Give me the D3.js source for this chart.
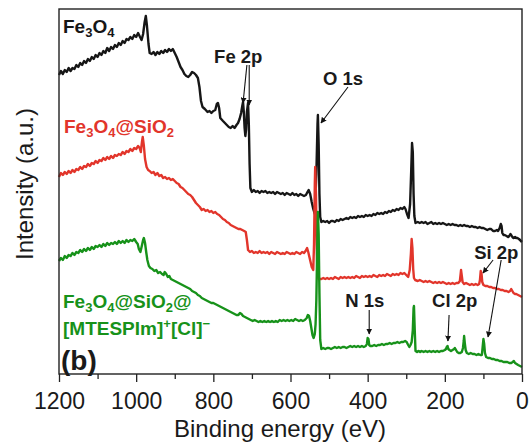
<!DOCTYPE html>
<html>
<head>
<meta charset="utf-8">
<script src="https://cdn.jsdelivr.net/npm/d3@7"></script>
<style>
  html, body { margin: 0; padding: 0; background: #fff; }
  svg { display: block; font-family: "Liberation Sans", Arial, sans-serif; }
</style>
</head>
<body>
<svg id="chart" width="530" height="443"></svg>
<script>
// XPS survey spectra: [binding energy (eV), intensity (a.u., offset)]
const fe3o4 = [
  [1200,299],[1195,303],[1190,300],[1185,304],[1180,302],[1175,306],[1170,303],[1165,306],
  [1160,305],[1155,309],[1150,307],[1145,311],[1140,309],[1135,313],[1130,311],[1125,315],
  [1120,313],[1115,317],[1110,315],[1105,319],[1100,317],[1095,321],[1090,319],[1085,323],
  [1080,321],[1075,326],[1070,323],[1065,327],[1060,325],[1055,329],[1050,327],[1045,331],
  [1040,329],[1035,333],[1030,331],[1025,335],[1020,334],[1015,337],[1010,335],[1005,339],
  [1000,337],[995,341],[990,337],[986,334],[982,340],[978,352],[975,358],[972,348],[968,330],
  [965,321],[960,320],[955,322],[950,319],[945,322],[940,320],[935,323],[930,321],[925,324],
  [920,322],[915,325],[910,323],[905,325],[900,321],[895,317],[890,312],[885,307],[880,304],
  [875,300],[870,298],[865,297],[860,299],[855,302],[850,301],[845,299],[840,296],[836,287],
  [832,273],[828,267],[822,265],[815,262],[810,263],[805,261],[800,263],[795,264],[791,270],
  [788,271],[785,266],[782,256],[775,253],[770,251],[765,249],[760,247],[755,246],[750,248],
  [745,246],[740,249],[736,251],[732,255],[728,261],[725,268],[723,272],[721,262],[719,246],
  [717,238],[715,245],[713,262],[710,271],[708,250],[706,210],[704,186],[700,182],[695,184],
  [690,182],[685,183],[680,181],[675,183],[670,182],[665,183],[660,181],[655,182],[650,181],
  [645,182],[640,180],[635,182],[630,181],[625,180],[620,181],[615,179],[610,181],[605,180],
  [600,179],[595,181],[590,179],[585,180],[580,178],[575,180],[570,179],[565,178],[560,179],
  [556,182],[553,184],[549,180],[545,172],[541,165],[537,160],[533,200],[530,250],[529,259],
  [527,230],[525,180],[523,157],[520,152],[515,153],[510,152],[505,153],[500,151],[495,153],
  [490,153],[485,152],[480,154],[475,153],[470,155],[465,154],[460,155],[455,156],[450,155],
  [445,157],[440,156],[435,157],[430,156],[425,158],[420,157],[415,158],[410,157],[405,159],
  [400,158],[395,159],[390,158],[385,160],[380,159],[375,161],[370,160],[365,161],[360,160],
  [355,162],[350,161],[345,163],[340,162],[335,164],[330,163],[325,165],[320,164],[315,166],
  [310,165],[305,167],[302,165],[298,160],[294,156],[290,170],[287,205],[285,231],[283,222],
  [281,180],[279,158],[276,151],[270,152],[265,151],[260,152],[255,151],[250,152],[245,150],
  [240,151],[235,152],[230,150],[225,151],[220,150],[215,151],[210,150],[205,151],[200,150],
  [195,149],[190,150],[185,149],[180,150],[175,149],[170,149],[165,148],[160,149],[155,148],
  [150,149],[145,148],[140,148],[135,147],[130,148],[125,147],[120,147],[115,146],[110,147],
  [105,146],[100,146],[95,145],[90,144],[85,145],[80,145],[75,143],[70,143],[65,144],[62,143],
  [58,146],[55,150],[53,148],[51,141],[48,139],[45,139],[40,138],[36,137],[33,138],[30,140],
  [28,139],[25,137],[22,136],[18,137],[15,136],[12,136],[8,135],[5,134],[3,133],[0,132]
];

const fe3o4SiO2 = [
  [1200,197],[1195,201],[1190,199],[1185,202],[1180,200],[1175,203],[1170,201],[1165,204],
  [1160,202],[1155,205],[1150,204],[1145,207],[1140,205],[1135,208],[1130,207],[1125,210],
  [1120,208],[1115,211],[1110,210],[1105,213],[1100,211],[1095,214],[1090,213],[1085,216],
  [1080,214],[1075,217],[1070,215],[1065,218],[1060,216],[1055,219],[1050,218],[1045,220],
  [1040,219],[1035,222],[1030,220],[1025,223],[1020,222],[1015,225],[1010,223],[1005,226],
  [1000,225],[995,228],[991,226],[988,222],[985,232],[983,237],[980,228],[977,215],[973,207],
  [969,204],[965,203],[960,201],[955,202],[950,199],[945,201],[940,198],[935,199],[930,196],
  [925,197],[920,195],[915,196],[910,194],[905,195],[900,193],[895,191],[890,190],[885,187],
  [880,186],[875,184],[870,182],[865,180],[860,179],[855,177],[850,174],[845,171],[840,169],
  [835,167],[830,164],[825,165],[820,163],[815,164],[810,162],[805,163],[800,161],[795,162],
  [790,160],[785,159],[780,157],[775,155],[770,154],[765,152],[760,151],[755,149],[750,148],
  [745,147],[740,146],[735,145],[730,145],[725,144],[720,143],[716,142],[713,134],[710,124],
  [705,122],[700,123],[695,121],[690,122],[685,121],[680,123],[675,121],[670,122],[665,121],
  [660,122],[655,120],[650,122],[645,121],[640,120],[635,122],[630,121],[625,120],[620,121],
  [615,120],[610,122],[605,121],[600,120],[595,121],[590,120],[585,122],[580,121],[575,120],
  [570,122],[565,121],[561,123],[557,126],[554,122],[551,117],[548,112],[545,107],[541,104],
  [539,130],[537,190],[536,207],[534,180],[532,125],[530,100],[527,95],[520,95],[515,96],
  [510,95],[505,96],[500,95],[495,96],[490,95],[485,97],[480,96],[475,95],[470,97],[465,96],
  [460,97],[455,96],[450,97],[445,96],[440,97],[435,96],[430,98],[425,97],[420,96],[415,98],
  [410,97],[405,98],[400,97],[395,98],[390,97],[385,99],[380,98],[375,97],[370,99],[365,98],
  [360,99],[355,98],[350,100],[345,99],[340,98],[335,100],[330,99],[325,100],[320,99],[315,101],
  [310,100],[305,101],[300,99],[295,97],[291,104],[288,120],[286,135],[284,126],[282,105],
  [280,96],[277,94],[270,93],[265,94],[260,93],[255,92],[250,93],[245,92],[240,93],[235,92],
  [230,91],[225,92],[220,91],[215,92],[210,91],[205,92],[200,91],[195,90],[190,91],[185,90],
  [180,91],[175,90],[170,91],[165,91],[161,93],[159,100],[158,104],[156,98],[154,92],[150,90],
  [145,91],[140,90],[135,89],[130,90],[125,89],[120,90],[115,89],[111,90],[109,94],[107,103],
  [105,101],[103,92],[100,89],[95,88],[90,88],[85,87],[80,87],[75,86],[70,86],[65,85],[60,85],
  [55,84],[50,84],[45,83],[40,83],[35,82],[31,83],[28,85],[25,83],[22,81],[18,80],[15,80],
  [10,79],[5,78],[0,77]
];

const fe3o4SiO2IL = [
  [1200,113],[1195,116],[1190,114],[1185,118],[1180,116],[1175,119],[1170,118],[1165,121],
  [1160,119],[1155,122],[1150,121],[1145,124],[1140,122],[1135,125],[1130,123],[1125,126],
  [1120,124],[1115,127],[1110,125],[1105,128],[1100,127],[1095,129],[1090,127],[1085,130],
  [1080,128],[1075,131],[1070,129],[1065,131],[1060,130],[1055,132],[1050,130],[1045,133],
  [1040,131],[1035,133],[1030,131],[1025,134],[1020,132],[1015,134],[1010,133],[1005,135],
  [1000,132],[996,130],[993,125],[989,122],[986,127],[982,134],[980,136],[977,131],[974,122],
  [971,114],[967,108],[963,106],[958,105],[953,103],[948,104],[943,101],[938,102],[933,100],
  [929,99],[926,102],[922,100],[918,97],[914,98],[910,95],[905,94],[900,93],[895,92],[890,91],
  [885,90],[880,89],[875,88],[870,87],[865,86],[860,85],[855,83],[850,82],[845,81],[840,79],
  [835,78],[830,76],[825,75],[820,74],[815,73],[810,72],[805,71],[800,71],[795,70],[790,69],
  [785,68],[780,67],[775,66],[770,65],[765,64],[760,63],[755,62],[750,61],[745,60],[740,59],
  [735,59],[731,61],[727,60],[723,58],[718,57],[713,56],[708,55],[703,54],[698,53],[693,54],
  [688,53],[683,52],[678,53],[673,52],[668,53],[663,52],[658,53],[653,52],[648,53],[643,52],
  [638,53],[633,52],[628,54],[623,53],[618,54],[613,53],[608,54],[603,53],[598,54],[593,53],
  [588,55],[583,54],[578,53],[573,54],[568,53],[563,54],[558,56],[555,59],[552,58],[549,53],
  [546,46],[543,39],[540,36],[537,40],[535,50],[533,74],[531,120],[529,162],[527,140],[525,80],
  [523,34],[520,25],[515,26],[510,25],[505,26],[500,26],[495,25],[490,26],[485,27],[480,26],
  [475,27],[470,26],[465,27],[460,27],[455,26],[450,27],[445,28],[440,27],[435,28],[430,27],
  [425,28],[420,27],[415,28],[410,27],[405,28],[402,30],[400,36],[398,35],[396,29],[393,28],
  [388,28],[383,29],[378,28],[373,29],[368,29],[363,30],[358,29],[353,30],[348,30],[343,31],
  [338,30],[333,31],[328,31],[323,32],[318,31],[313,32],[308,32],[303,33],[299,32],[295,29],
  [292,27],[289,29],[286,32],[283,44],[281,66],[280,68],[278,44],[276,23],[272,22],[268,23],
  [264,22],[260,23],[255,22],[250,23],[245,22],[240,23],[235,22],[230,23],[225,22],[220,23],
  [215,22],[210,23],[205,23],[200,24],[197,25],[195,27],[193,28],[191,25],[188,24],[184,23],
  [180,24],[176,25],[174,26],[171,24],[168,22],[164,21],[160,21],[156,22],[153,26],[151,33],
  [150,38],[148,30],[146,24],[143,21],[138,20],[133,21],[128,20],[123,20],[118,19],[113,20],
  [108,19],[104,19],[102,27],[100,35],[98,30],[96,21],[93,17],[88,16],[83,16],[78,15],[73,15],
  [68,14],[63,14],[58,13],[53,13],[48,12],[43,12],[38,12],[33,11],[28,11],[24,12],[21,13],
  [18,11],[14,10],[10,9],[5,8],[0,7]
];

// Axis ticks
const majorTicks = [1200, 1000, 800, 600, 400, 200, 0];
const minorTicks = [1100, 900, 700, 500, 300, 100];

// Peak annotations: label anchor and arrows [fromE, fromI, toE, toI]
const peakLabels = [
  { text: "Fe 2p", e: 798, i: 311 },
  { text: "O 1s",  e: 516, i: 289 },
  { text: "Si 2p", e: 124, i: 115 },
  { text: "N 1s",  e: 458, i: 67 },
  { text: "Cl 2p", e: 233, i: 67 }
];
const peakArrows = [
  [713, 309, 723, 271],
  [707, 309, 707, 269],
  [451, 287, 521, 251],
  [75, 114, 101, 101],
  [54, 114, 88, 37],
  [396, 64, 396, 40],
  [189, 59, 192, 33]
];

const colors = { black: "#161616", red: "#e2352b", green: "#17921a" };

const svg = d3.select("#chart");
const margin = { left: 59, right: 8, top: 9, bottom: 69 };
const W = 530, H = 443;

const x = d3.scaleLinear().domain([1200, 0]).range([margin.left, W - margin.right]);
const y = d3.scaleLinear().domain([0, 365]).range([H - margin.bottom, margin.top]);

const line = d3.line().x(d => x(d[0])).y(d => y(d[1]));

const series = [
  { data: fe3o4, color: colors.black },
  { data: fe3o4SiO2, color: colors.red },
  { data: fe3o4SiO2IL, color: colors.green }
];

svg.append("defs").append("marker")
  .attr("id", "arrow")
  .attr("viewBox", "0 0 10 10")
  .attr("refX", 9).attr("refY", 5)
  .attr("markerWidth", 6).attr("markerHeight", 6)
  .attr("markerUnits", "userSpaceOnUse")
  .attr("orient", "auto")
  .append("path").attr("d", "M0,0 L10,5 L0,10 z").attr("fill", "#111");

svg.append("g").selectAll("path")
  .data(series).join("path")
  .attr("d", d => line(d.data))
  .attr("fill", "none")
  .attr("stroke", d => d.color)
  .attr("stroke-width", 2.4)
  .attr("stroke-linejoin", "round");

// Frame
svg.append("rect")
  .attr("x", x(1200)).attr("y", y(365))
  .attr("width", x(0) - x(1200)).attr("height", y(0) - y(365))
  .attr("fill", "none").attr("stroke", "#222").attr("stroke-width", 1.4);

// Bottom axis
const axisMajor = d3.axisBottom(x).tickValues(majorTicks).tickSize(8).tickSizeOuter(0)
  .tickPadding(11).tickFormat(d3.format("d"));
const gx = svg.append("g").attr("transform", `translate(0,${y(0)})`).call(axisMajor);
gx.select(".domain").remove();
gx.selectAll("line").attr("stroke", "#222").attr("stroke-width", 1.3);
gx.selectAll("text").attr("font-size", 23).attr("fill", "#1a1a1a")
  .attr("font-family", "'Liberation Sans', Arial, sans-serif");

const axisMinor = d3.axisBottom(x).tickValues(minorTicks).tickSize(5).tickSizeOuter(0).tickFormat("");
const gm = svg.append("g").attr("transform", `translate(0,${y(0)})`).call(axisMinor);
gm.select(".domain").remove();
gm.selectAll("line").attr("stroke", "#222").attr("stroke-width", 1.3);

// Axis titles
svg.append("text")
  .attr("x", 280).attr("y", 437)
  .attr("text-anchor", "middle")
  .attr("font-size", 24).attr("fill", "#1a1a1a")
  .text("Binding energy (eV)");

svg.append("text")
  .attr("transform", "translate(33,184) rotate(-90)")
  .attr("text-anchor", "middle")
  .attr("font-size", 24).attr("fill", "#1a1a1a")
  .text("Intensity (a.u.)");

// Series labels with sub/superscripts
function richLabel(xp, yp, parts, color) {
  const t = svg.append("text").attr("x", xp).attr("y", yp)
    .attr("font-size", 19).attr("font-weight", "bold").attr("fill", color);
  parts.forEach(p => {
    const s = t.append("tspan").text(p[0]).attr("dy", p[2]);
    if (p[1]) s.attr("font-size", 13);
  });
  return t;
}
// Shift each fragment relative to the previous one so plain text returns to the baseline
function withReset(parts) {
  const out = [];
  let shift = 0;
  parts.forEach(p => {
    const own = p[1] === "sub" ? 4 : p[1] === "sup" ? -7 : 0;
    out.push([p[0], p[1], own - shift]);
    shift = own;
  });
  return out;
}
richLabel(63, 33, withReset([["Fe"], ["3", "sub"], ["O"], ["4", "sub"]]), colors.black);
richLabel(64, 133, withReset([["Fe"], ["3", "sub"], ["O"], ["4", "sub"], ["@SiO"], ["2", "sub"]]), colors.red);
richLabel(63, 308, withReset([["Fe"], ["3", "sub"], ["O"], ["4", "sub"], ["@SiO"], ["2", "sub"], ["@"]]), colors.green);
richLabel(63, 335, withReset([["[MTESPIm]"], ["+", "sup"], ["[Cl]"], ["\u2212", "sup"]]), colors.green);

svg.append("text").attr("x", 61).attr("y", 370)
  .attr("font-size", 28).attr("font-weight", "bold").attr("fill", "#1a1a1a")
  .text("(b)");

// Peak labels and arrows
svg.append("g").selectAll("text").data(peakLabels).join("text")
  .attr("x", d => x(d.e)).attr("y", d => y(d.i))
  .attr("font-size", 18.5).attr("font-weight", "bold").attr("fill", "#1a1a1a")
  .text(d => d.text);

svg.append("g").selectAll("line").data(peakArrows).join("line")
  .attr("x1", d => x(d[0])).attr("y1", d => y(d[1]))
  .attr("x2", d => x(d[2])).attr("y2", d => y(d[3]))
  .attr("stroke", "#111").attr("stroke-width", 1.1)
  .attr("marker-end", "url(#arrow)");
</script>
</body>
</html>
